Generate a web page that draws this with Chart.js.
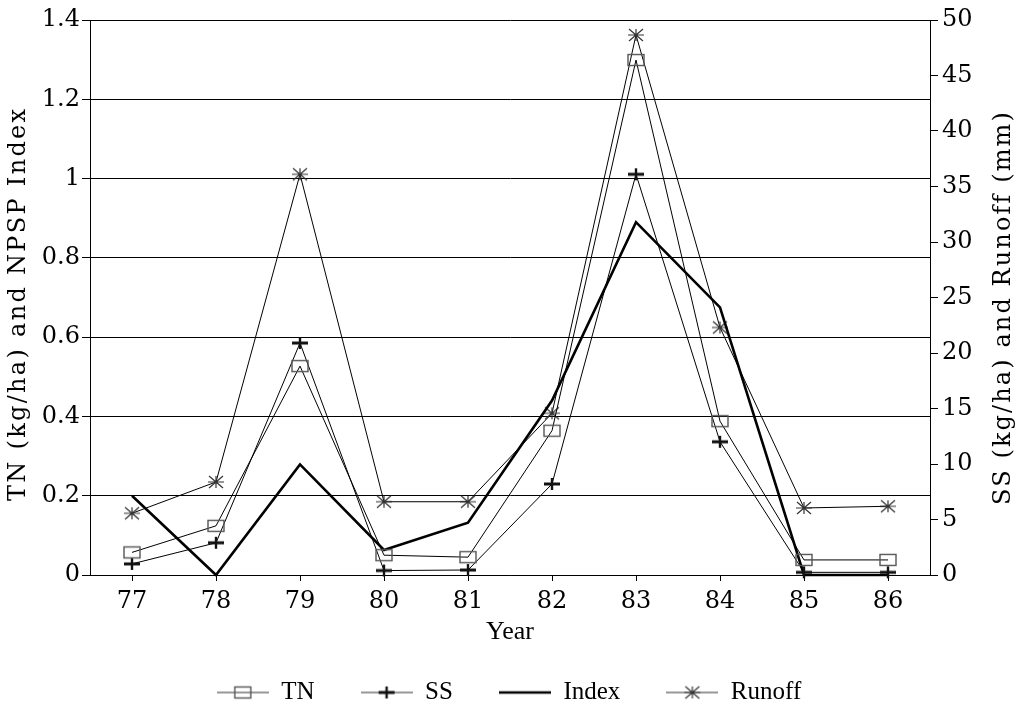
<!DOCTYPE html>
<html>
<head>
<meta charset="utf-8">
<title>TN, SS, Index and Runoff by year</title>
<script src="https://cdn.jsdelivr.net/npm/chart.js@4.4.1/dist/chart.umd.min.js"></script>
<style>
  html, body { margin: 0; padding: 0; background: #fff; }
  #wrap { width: 1018px; height: 709px; }
</style>
</head>
<body>
<div id="wrap"><canvas id="chart" width="1018" height="709"></canvas></div>
<script>
// =================== DATA =================== //
const years = ['77', '78', '79', '80', '81', '82', '83', '84', '85', '86'];
const tnValues = [0.057, 0.124, 0.527, 0.050, 0.045, 0.364, 1.299, 0.388, 0.038, 0.038];
const ssValues = [1.0, 2.9, 20.9, 0.4, 0.45, 8.2, 36.1, 12.0, 0.24, 0.24];
const indexValues = [0.20, 0.0, 0.279, 0.063, 0.132, 0.44, 0.89, 0.675, 0.0, 0.0];
const runoffValues = [5.56, 8.38, 36.1, 6.6, 6.6, 14.57, 48.65, 22.3, 6.04, 6.19];
const leftTickLabels = ['0', '0.2', '0.4', '0.6', '0.8', '1', '1.2', '1.4'];
const rightTickLabels = ['0', '5', '10', '15', '20', '25', '30', '35', '40', '45', '50'];
const leftTitle = 'TN (kg/ha) and NPSP Index';
const rightTitle = 'SS (kg/ha) and Runoff (mm)';

// =================== MARKERS (drawn on small canvases) =================== //
function drawMarker(ctx, kind, cx, cy) {
    if (kind === 'rect') {
        ctx.strokeStyle = '#555';
        ctx.lineWidth = 1.4;
        ctx.strokeRect(cx - 8, cy - 5.5, 16, 11);
    } else if (kind === 'plus') {
        ctx.strokeStyle = '#111';
        ctx.lineWidth = 3;
        ctx.beginPath();
        ctx.moveTo(cx - 8, cy); ctx.lineTo(cx + 8, cy);
        ctx.stroke();
        ctx.lineWidth = 2.4;
        ctx.beginPath();
        ctx.moveTo(cx, cy - 6); ctx.lineTo(cx, cy + 6);
        ctx.stroke();
    } else if (kind === 'star') {
        ctx.strokeStyle = '#333';
        ctx.lineWidth = 1.2;
        ctx.beginPath();
        ctx.moveTo(cx - 8, cy); ctx.lineTo(cx + 8, cy);
        ctx.moveTo(cx, cy - 6); ctx.lineTo(cx, cy + 6);
        ctx.moveTo(cx - 7, cy - 6); ctx.lineTo(cx + 7, cy + 6);
        ctx.moveTo(cx - 7, cy + 6); ctx.lineTo(cx + 7, cy - 6);
        ctx.stroke();
    }
}

function makeMarker(kind) {
    let c = document.createElement('canvas');
    c.width = 20;
    c.height = 16;
    drawMarker(c.getContext('2d'), kind, 10, 8);
    return c;
}

function makeLegendSymbol(kind, lineWidth) {
    let c = document.createElement('canvas');
    c.width = 52;
    c.height = 16;
    let ctx = c.getContext('2d');
    ctx.strokeStyle = kind === 'none' ? '#000' : '#333';
    ctx.lineWidth = lineWidth;
    ctx.beginPath();
    ctx.moveTo(0, 8); ctx.lineTo(52, 8);
    ctx.stroke();
    drawMarker(ctx, kind, 26, 8);
    return c;
}

const legendSymbols = [
    makeLegendSymbol('rect', 1),
    makeLegendSymbol('plus', 1),
    makeLegendSymbol('none', 2.6),
    makeLegendSymbol('star', 1)
];

// Both y titles read bottom-to-top and are spread out like the original
function drawVerticalTitle(ctx, text, x, y, length) {
    ctx.save();
    ctx.translate(x, y);
    ctx.rotate(-Math.PI / 2);
    ctx.font = '24px "DejaVu Serif"';
    ctx.letterSpacing = '0px';
    let w = ctx.measureText(text).width;
    let spacing = Math.max(0, (length - w) / (text.length - 1));
    ctx.letterSpacing = spacing.toFixed(2) + 'px';
    ctx.fillStyle = '#000';
    ctx.textAlign = 'left';
    ctx.textBaseline = 'middle';
    ctx.fillText(text, -length / 2, 0);
    ctx.restore();
}

const axisTitlesPlugin = {
    id: 'axisTitles',
    afterDraw(chart) {
        const ctx = chart.ctx;
        drawVerticalTitle(ctx, leftTitle, 19, 305, 392);
        drawVerticalTitle(ctx, rightTitle, 1004, 309, 392);
    }
};

// =================== CHART =================== //
const tickFont = { family: 'DejaVu Serif', size: 24 };

new Chart(document.getElementById('chart'), {
    type: 'line',
    data: {
        labels: years,
        datasets: [
            {
                label: 'TN', data: tnValues, yAxisID: 'y',
                borderColor: '#000', borderWidth: 1, tension: 0,
                pointStyle: makeMarker('rect'), pointRadius: 6, clip: 12
            },
            {
                label: 'SS', data: ssValues, yAxisID: 'y1',
                borderColor: '#000', borderWidth: 1, tension: 0,
                pointStyle: makeMarker('plus'), pointRadius: 6, clip: 12
            },
            {
                label: 'Index', data: indexValues, yAxisID: 'y',
                borderColor: '#000', borderWidth: 2.6, tension: 0,
                pointRadius: 0, clip: 12
            },
            {
                label: 'Runoff', data: runoffValues, yAxisID: 'y1',
                borderColor: '#000', borderWidth: 1, tension: 0,
                pointStyle: makeMarker('star'), pointRadius: 6, clip: 12
            }
        ]
    },
    options: {
        responsive: false,
        devicePixelRatio: 1,
        animation: false,
        layout: { padding: { top: 20, left: 0, right: 0, bottom: 0 } },
        plugins: {
            tooltip: { enabled: false },
            legend: {
                position: 'bottom',
                maxHeight: 75,
                labels: {
                    usePointStyle: true,
                    pointStyleWidth: 52,
                    padding: 46,
                    color: '#000',
                    font: { family: 'Liberation Serif', size: 25 },
                    generateLabels: chart => chart.data.datasets.map((ds, i) => ({
                        text: ds.label,
                        pointStyle: legendSymbols[i],
                        fillStyle: '#000',
                        strokeStyle: '#000',
                        lineWidth: 0,
                        hidden: false,
                        datasetIndex: i
                    }))
                }
            }
        },
        scales: {
            x: {
                type: 'category',
                offset: true,
                afterFit: scale => { scale.height = 59; },
                grid: { offset: false, drawOnChartArea: false, tickLength: 6, color: '#000' },
                border: { color: '#000', width: 1 },
                ticks: { font: tickFont, color: '#000', padding: 6 },
                title: {
                    display: true, text: 'Year', color: '#000',
                    font: { family: 'Liberation Serif', size: 26 },
                    padding: { top: 0, bottom: -14 }
                }
            },
            y: {
                position: 'left',
                min: 0,
                max: 1.4,
                afterFit: scale => { scale.width = 90; },
                grid: { color: '#000', lineWidth: 1, tickLength: 8 },
                border: { color: '#000', width: 1 },
                ticks: {
                    stepSize: 0.2, font: tickFont, color: '#000', padding: 2,
                    callback: (v, i) => leftTickLabels[i]
                }
            },
            y1: {
                position: 'right',
                min: 0,
                max: 50,
                afterFit: scale => { scale.width = 88; },
                grid: { drawOnChartArea: false, color: '#000', tickLength: 8 },
                border: { color: '#000', width: 1 },
                ticks: {
                    stepSize: 5, font: tickFont, color: '#000', padding: 4,
                    callback: (v, i) => rightTickLabels[i]
                }
            }
        }
    },
    plugins: [axisTitlesPlugin]
});
</script>
</body>
</html>
